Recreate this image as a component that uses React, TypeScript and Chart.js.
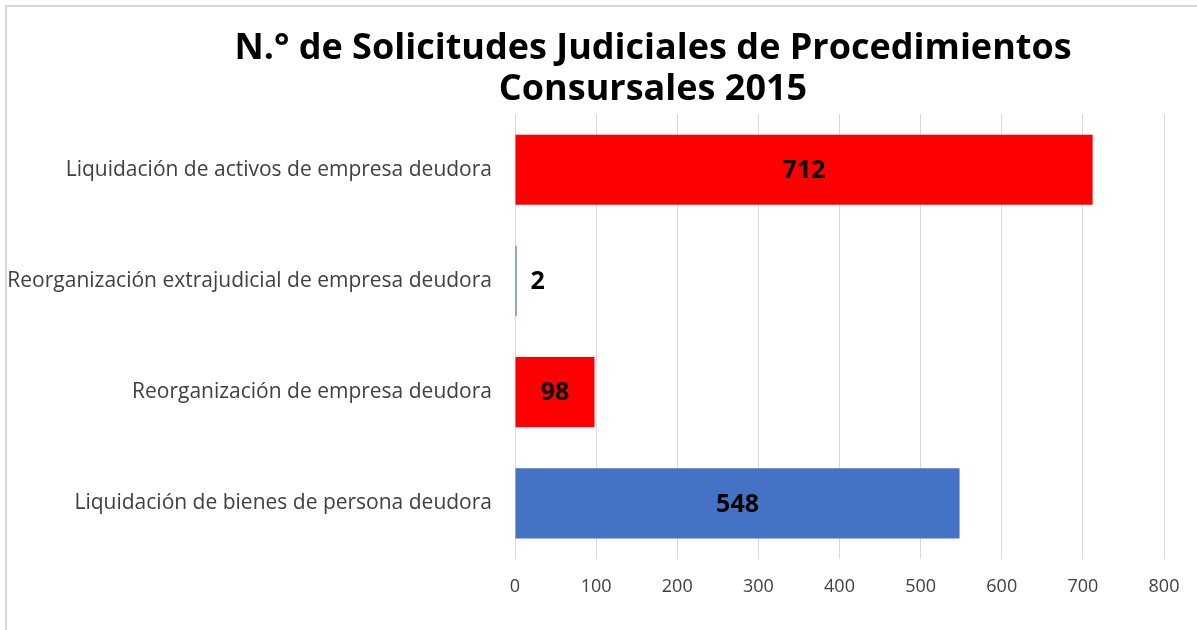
import React, { useEffect, useRef } from "react";
import { Chart, registerables } from "chart.js";

Chart.register(...registerables);

const categories = [
  "Liquidación de activos de empresa deudora",
  "Reorganización extrajudicial de empresa deudora",
  "Reorganización de empresa deudora",
  "Liquidación de bienes de persona deudora",
];
const values = [712, 2, 98, 548];
const barColors = ["#FF0000", "#4472C4", "#FF0000", "#4472C4"];
const titleLines = ["N.° de Solicitudes Judiciales de Procedimientos", "Consursales 2015"];
const xMin = 0;
const xMax = 800;
const xStep = 100;

const FONT = "'Open Sans', 'Noto Sans', sans-serif";

const valueLabels = {
  id: "valueLabels",
  afterDatasetsDraw(chart: any) {
    const ctx = chart.ctx;
    const meta = chart.getDatasetMeta(0);
    ctx.save();
    ctx.font = `bold 25px ${FONT}`;
    ctx.fillStyle = "#000000";
    ctx.textBaseline = "middle";
    meta.data.forEach((bar: any, i: number) => {
      const v = values[i];
      const left = Math.min(bar.x, bar.base);
      const right = Math.max(bar.x, bar.base);
      const w = right - left;
      if (w < 40) {
        ctx.textAlign = "left";
        ctx.fillText(String(v), right + 14, bar.y + 1);
      } else {
        ctx.textAlign = "center";
        ctx.fillText(String(v), (left + right) / 2, bar.y + 1);
      }
    });
    ctx.restore();
  },
};

const titleFullWidth = {
  id: "titleFullWidth",
  afterLayout(chart: any) {
    const tb = chart.titleBlock;
    if (tb) {
      tb.left = 0;
      tb.right = chart.width;
      tb.width = chart.width;
    }
  },
};

export default function App() {
  const ref = useRef<HTMLCanvasElement | null>(null);
  useEffect(() => {
    if (!ref.current) return;
    const chart = new Chart(ref.current, {
      type: "bar",
      data: {
        labels: categories,
        datasets: [
          {
            data: values,
            backgroundColor: barColors,
            borderWidth: 0,
            barPercentage: 0.63,
            categoryPercentage: 1,
          },
        ],
      },
      options: {
        indexAxis: "y",
        animation: false,
        responsive: true,
        maintainAspectRatio: false,
        layout: { padding: { left: 0, right: 135, top: 0, bottom: 31 } },
        plugins: {
          legend: { display: false },
          tooltip: { enabled: false },
          title: {
            display: true,
            text: titleLines,
            color: "#000000",
            font: { family: FONT, size: 36, weight: "bold", lineHeight: 1.14 },
            padding: { top: 21, bottom: 4 },
          },
        },
        scales: {
          x: {
            min: xMin,
            max: xMax,
            ticks: {
              stepSize: xStep,
              color: "#404040",
              padding: 17,
              font: { family: FONT, size: 18 },
            },
            grid: { color: "#d9d9d9", lineWidth: 1, drawTicks: false },
            border: { display: false },
            afterFit(scale: any) {
              scale.height = 40;
            },
          },
          y: {
            ticks: {
              color: "#404040",
              padding: 23,
              font: { family: FONT, size: 21 },
            },
            grid: { display: false, drawTicks: false },
            border: { display: false },
            afterFit(scale: any) {
              scale.width = 508;
            },
          },
        },
      },
      plugins: [valueLabels, titleFullWidth],
    });
    return () => chart.destroy();
  }, []);

  return (
    <div
      style={{
        position: "fixed",
        left: 0,
        top: 0,
        width: 1197,
        height: 630,
        overflow: "hidden",
        background: "#ffffff",
      }}
    >
      <div
        style={{
          position: "absolute",
          left: 5,
          top: 5,
          width: 1292,
          height: 623,
          borderLeft: "2px solid #d9d9d9",
          borderTop: "2px solid #d9d9d9",
        }}
      >
        <canvas ref={ref} />
      </div>
    </div>
  );
}
